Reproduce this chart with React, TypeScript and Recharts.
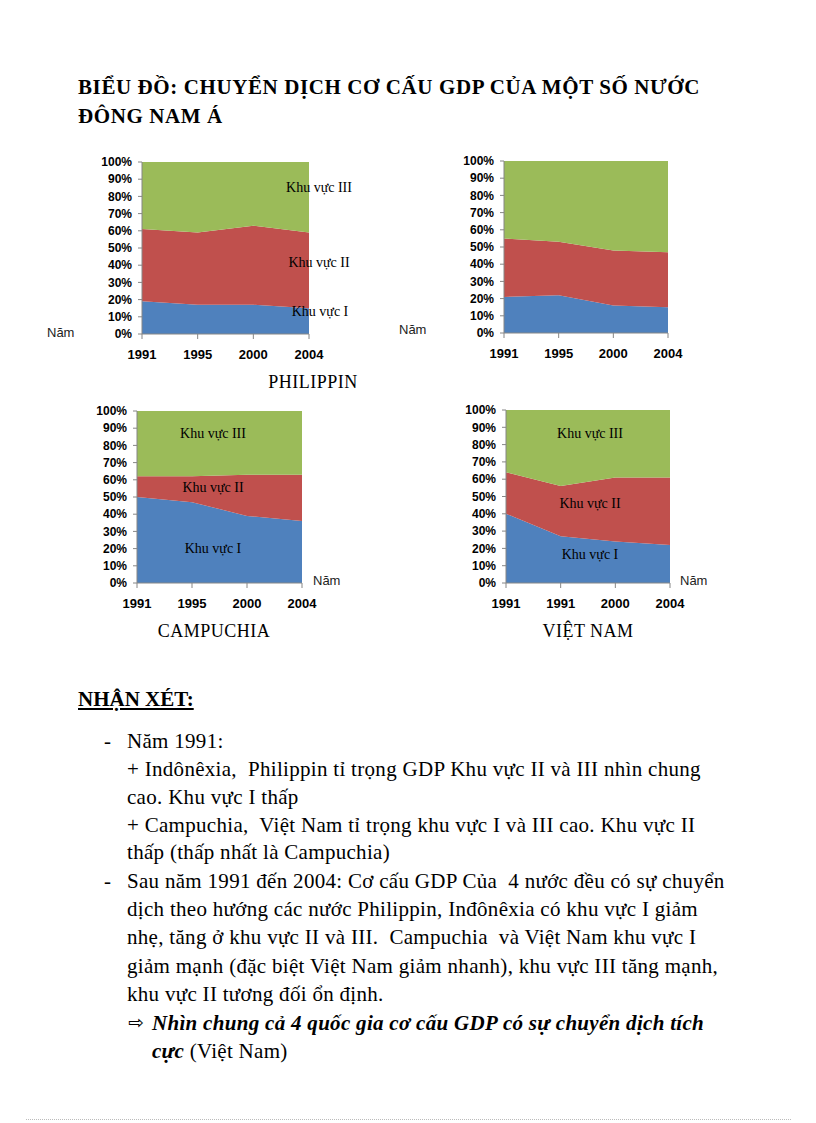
import React from 'react';
import { AreaChart, Area, XAxis, YAxis } from 'recharts';

// năm trên trục hoành
const YEARS = ['1991', '1995', '2000', '2004'];
const VN_YEARS = ['1991', '1991', '2000', '2004'];
const Y_TICKS = [0, 10, 20, 30, 40, 50, 60, 70, 80, 90, 100];

// Philippin (%)
const PH_KV1 = [19, 17, 17, 15];
const PH_KV2 = [42, 42, 46, 44];
const PH_KV3 = [39, 41, 37, 41];

// Inđônêxia (%)
const ID_KV1 = [21, 22, 16, 15];
const ID_KV2 = [34, 31, 32, 32];
const ID_KV3 = [45, 47, 52, 53];

// Campuchia (%)
const CA_KV1 = [50, 47, 39, 36];
const CA_KV2 = [12, 15, 24, 27];
const CA_KV3 = [38, 38, 37, 37];

// Việt Nam (%)
const VN_KV1 = [40, 27, 24, 22];
const VN_KV2 = [24, 29, 37, 39];
const VN_KV3 = [36, 44, 39, 39];

const BLUE = '#4F81BD';
const RED = '#C0504D';
const GREEN = '#9BBB59';

const build = (years: string[], a: number[], b: number[], c: number[]) =>
    years.map((year, i) => ({ year, kv1: a[i], kv2: b[i], kv3: c[i] }));

const serif = '"Liberation Serif", "Times New Roman", serif';
const sans = '"Liberation Sans", Arial, sans-serif';

const Panel = ({ left, top, w, h, data }: any) => {
    const YW = 45, MT = 10, MR = 20, XH = 30;
    return (
        <div style={{ position: 'absolute', left: left - YW, top: top - MT }}>
            <AreaChart width={YW + w + MR} height={MT + h + XH} data={data}
                       margin={{ top: MT, right: MR, left: 0, bottom: 0 }}>
                <XAxis dataKey="year" interval={0} height={XH} stroke="#868686"
                       tickSize={5} tickMargin={11}
                       tick={{ fill: '#000', fontSize: 13, fontWeight: 'bold', fontFamily: sans }} />
                <YAxis domain={[0, 100]} ticks={Y_TICKS} interval={0} width={YW} stroke="#868686"
                       tickSize={4} tickMargin={6} tickFormatter={(v) => v + '%'}
                       tick={{ fill: '#000', fontSize: 12, fontWeight: 'bold', fontFamily: sans }} />
                <Area type="linear" dataKey="kv1" stackId="1" stroke="none" fill={BLUE} fillOpacity={1} isAnimationActive={false} />
                <Area type="linear" dataKey="kv2" stackId="1" stroke="none" fill={RED} fillOpacity={1} isAnimationActive={false} />
                <Area type="linear" dataKey="kv3" stackId="1" stroke="none" fill={GREEN} fillOpacity={1} isAnimationActive={false} />
            </AreaChart>
        </div>
    );
};

const Txt = ({ x, y, children, style }: any) => (
    <div style={{ position: 'absolute', left: x, top: y, whiteSpace: 'pre', lineHeight: 1, ...style }}>{children}</div>
);

const Lbl = ({ cx, cy, children, size = 14, ls = 0 }: any) => (
    <div style={{ position: 'absolute', left: cx - 70, top: cy - size / 2 - 1, width: 140, textAlign: 'center',
        fontFamily: serif, fontSize: size, letterSpacing: ls, lineHeight: 1, whiteSpace: 'pre' }}>{children}</div>
);

const Nam = ({ x, cy }: any) => (
    <Txt x={x} y={cy - 7} style={{ fontFamily: sans, fontSize: 13, color: '#222' }}>Năm</Txt>
);

const body = { fontFamily: serif, fontSize: 21, letterSpacing: 0.3 };
const head = { fontFamily: serif, fontSize: 21, letterSpacing: 0.6, fontWeight: 'bold' };

const App = () => {
    return (
        <div style={{ position: 'absolute', left: 0, top: 0, width: 816, height: 1123, background: '#fff', overflow: 'hidden' }}>
            <Txt x={78} y={77} style={head}>BIỂU ĐỒ: CHUYỂN DỊCH CƠ CẤU GDP CỦA MỘT SỐ NƯỚC</Txt>
            <Txt x={78} y={106} style={head}>ĐÔNG NAM Á</Txt>

            <Panel left={142} top={162} w={167} h={172} data={build(YEARS, PH_KV1, PH_KV2, PH_KV3)} />
            <Panel left={504} top={161} w={164} h={172} data={build(YEARS, ID_KV1, ID_KV2, ID_KV3)} />
            <Panel left={137} top={411} w={165} h={172} data={build(YEARS, CA_KV1, CA_KV2, CA_KV3)} />
            <Panel left={506} top={410} w={164} h={173} data={build(VN_YEARS, VN_KV1, VN_KV2, VN_KV3)} />

            <Lbl cx={319} cy={189}>Khu vực III</Lbl>
            <Lbl cx={319} cy={264}>Khu vực II</Lbl>
            <Lbl cx={320} cy={313}>Khu vực I</Lbl>

            <Lbl cx={213} cy={435}>Khu vực III</Lbl>
            <Lbl cx={213} cy={489}>Khu vực II</Lbl>
            <Lbl cx={213} cy={550}>Khu vực I</Lbl>

            <Lbl cx={590} cy={435}>Khu vực III</Lbl>
            <Lbl cx={590} cy={505}>Khu vực II</Lbl>
            <Lbl cx={590} cy={556}>Khu vực I</Lbl>

            <Nam x={47} cy={333} />
            <Nam x={399} cy={330} />
            <Nam x={313} cy={581} />
            <Nam x={680} cy={581} />

            <Lbl cx={313} cy={383} size={18} ls={0.5}>PHILIPPIN</Lbl>
            <Lbl cx={214} cy={632} size={18} ls={0.5}>CAMPUCHIA</Lbl>
            <Lbl cx={588} cy={632} size={18} ls={0.5}>VIỆT NAM</Lbl>

            <Txt x={78} y={689} style={{ ...head, letterSpacing: 0, textDecoration: 'underline' }}>NHẬN XÉT:</Txt>

            <Txt x={104} y={731} style={body}>-</Txt>
            <Txt x={127} y={731} style={body}>Năm 1991:</Txt>
            <Txt x={127} y={759} style={body}>+ Indônêxia,  Philippin tỉ trọng GDP Khu vực II và III nhìn chung</Txt>
            <Txt x={127} y={787} style={body}>cao. Khu vực I thấp</Txt>
            <Txt x={127} y={815} style={body}>+ Campuchia,  Việt Nam tỉ trọng khu vực I và III cao. Khu vực II</Txt>
            <Txt x={127} y={842} style={body}>thấp (thấp nhất là Campuchia)</Txt>
            <Txt x={104} y={871} style={body}>-</Txt>
            <Txt x={127} y={871} style={body}>Sau năm 1991 đến 2004: Cơ cấu GDP Của  4 nước đều có sự chuyển</Txt>
            <Txt x={127} y={899} style={body}>dịch theo hướng các nước Philippin, Inđônêxia có khu vực I giảm</Txt>
            <Txt x={127} y={927} style={body}>nhẹ, tăng ở khu vực II và III.  Campuchia  và Việt Nam khu vực I</Txt>
            <Txt x={127} y={956} style={body}>giảm mạnh (đặc biệt Việt Nam giảm nhanh), khu vực III tăng mạnh,</Txt>
            <Txt x={127} y={984} style={body}>khu vực II tương đối ổn định.</Txt>
            <Txt x={128} y={1013} style={{ fontFamily: '"DejaVu Sans", sans-serif', fontSize: 19 }}>⇨</Txt>
            <Txt x={152} y={1013} style={{ ...body, fontWeight: 'bold', fontStyle: 'italic' }}>Nhìn chung cả 4 quốc gia cơ cấu GDP có sự chuyển dịch tích</Txt>
            <Txt x={152} y={1041} style={body}><b><i>cực</i></b> (Việt Nam)</Txt>

            <div style={{ position: 'absolute', left: 26, top: 1119, width: 765, borderTop: '1px dotted #bbb' }} />
        </div>
    );
};

export default App;
